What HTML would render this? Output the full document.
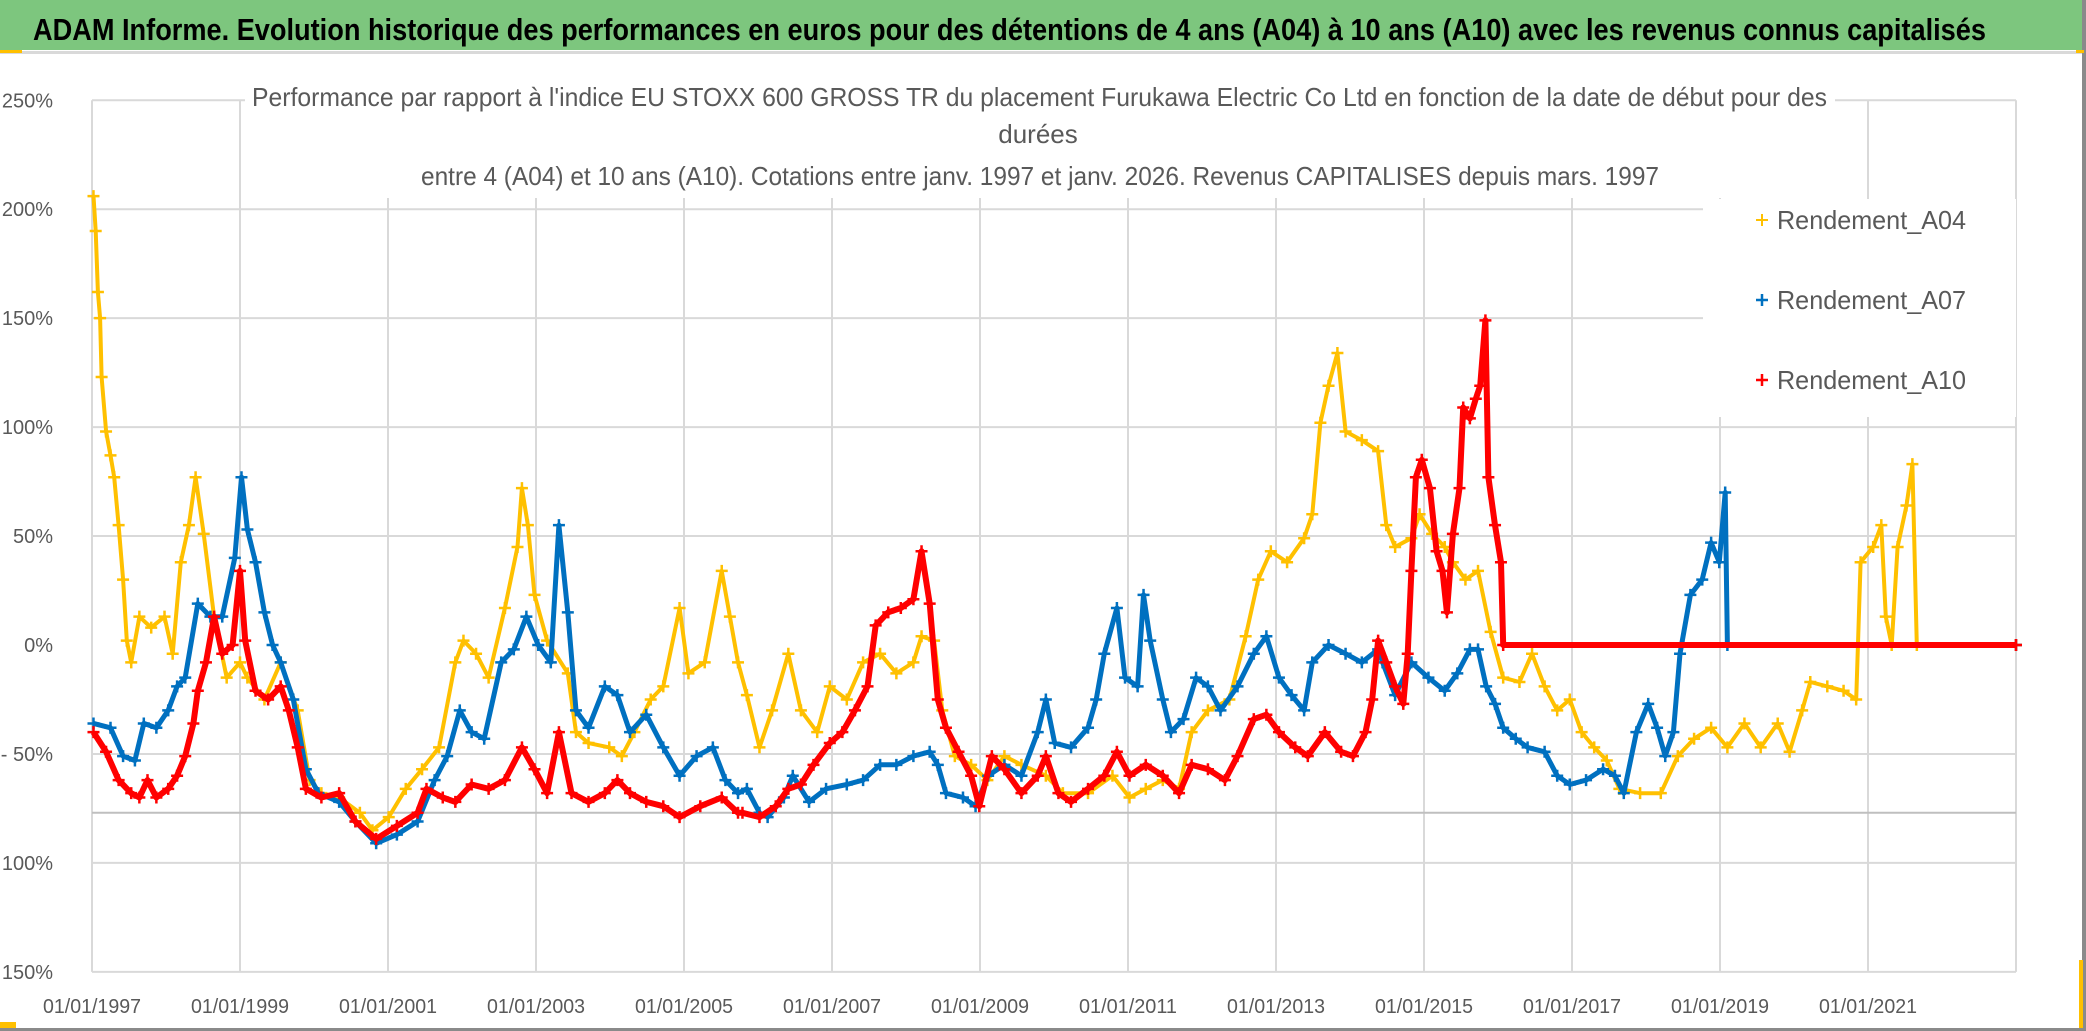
<!DOCTYPE html>
<html><head><meta charset="utf-8">
<style>
html,body{margin:0;padding:0;background:#fff;}
svg{display:block;}
text{font-family:"Liberation Sans",sans-serif;}
</style></head>
<body>
<svg id="chart" width="2086" height="1031" viewBox="0 0 2086 1031" xmlns="http://www.w3.org/2000/svg">
<rect x="0" y="0" width="2086" height="1031" fill="#ffffff"/>
<rect x="0" y="0" width="2086" height="50" fill="#7DC67E"/>
<text x="33" y="40" font-size="31" font-weight="bold" fill="#000" textLength="1953" lengthAdjust="spacingAndGlyphs">ADAM Informe. Evolution historique des performances en euros pour des détentions de 4 ans (A04) à 10 ans (A10) avec les revenus connus capitalisés</text>
<rect x="0" y="51" width="2086" height="3" fill="#d9d9d9"/>
<rect x="0" y="50" width="22" height="3" fill="#FFC000"/>
<g id="grid"></g>
<g id="series"></g>
<rect x="245" y="80" width="1590" height="118" fill="#fff"/>
<text x="252" y="106" font-size="26" fill="#595959" textLength="1575" lengthAdjust="spacingAndGlyphs">Performance par rapport à l'indice EU STOXX 600 GROSS TR  du placement Furukawa Electric Co Ltd en fonction de la date de début pour des</text>
<text x="1038" y="143" font-size="26" fill="#595959" text-anchor="middle">durées</text>
<text x="421" y="185" font-size="26" fill="#595959" textLength="1238" lengthAdjust="spacingAndGlyphs">entre 4 (A04) et 10 ans (A10). Cotations entre janv. 1997 et janv. 2026. Revenus CAPITALISES depuis mars. 1997</text>
<rect x="1703" y="199" width="313" height="218" fill="#fff"/>
<g>
<path d="M1756 220h12M1762 214v12" stroke="#FFC000" stroke-width="2"/>
<text x="1777" y="229" font-size="26" fill="#595959" textLength="189" lengthAdjust="spacingAndGlyphs">Rendement_A04</text></g>
<g>
<path d="M1756 300h12M1762 294v12" stroke="#0070C0" stroke-width="2.5"/>
<text x="1777" y="309" font-size="26" fill="#595959" textLength="189" lengthAdjust="spacingAndGlyphs">Rendement_A07</text></g>
<g>
<path d="M1756 380h12M1762 374v12" stroke="#FF0000" stroke-width="2.5"/>
<text x="1777" y="389" font-size="26" fill="#595959" textLength="189" lengthAdjust="spacingAndGlyphs">Rendement_A10</text></g>
<g id="yaxis"></g>
<g id="xaxis"></g>
<rect x="2082" y="0" width="4" height="1031" fill="#8a8a8a"/>
<rect x="0" y="1028" width="2086" height="3" fill="#8a8a8a"/>
<rect x="2079" y="960" width="4" height="68" fill="#FFC000"/>
<rect x="2076" y="50" width="8" height="3" fill="#FFC000"/>
<rect x="0" y="1022" width="16" height="6" fill="#FFC000"/>
</svg>
<script>
const yTicks = [250, 200, 150, 100, 50, 0, -50, -100, -150];
const yTickLabels = ["250%", "200%", "150%", "100%", "50%", "0%", "- 50%", "- 100%", "- 150%"];
const xTickYears = [1997, 1999, 2001, 2003, 2005, 2007, 2009, 2011, 2013, 2015, 2017, 2019, 2021, 2023];
const xTickLabels = ["01/01/1997","01/01/1999","01/01/2001","01/01/2003","01/01/2005","01/01/2007","01/01/2009","01/01/2011","01/01/2013","01/01/2015","01/01/2017","01/01/2019","01/01/2021",""];
const axisCrossValue = -77;

const a04Dates = [1997.02,1997.05,1997.08,1997.11,1997.13,1997.19,1997.25,1997.3,1997.36,1997.42,1997.47,1997.53,1997.64,1997.8,1997.98,1998.09,1998.2,1998.31,1998.4,1998.51,1998.65,1998.82,1999.0,1999.1,1999.33,1999.55,1999.78,1999.94,2000.1,2000.34,2000.62,2000.79,2001.01,2001.24,2001.46,2001.69,2001.91,2002.02,2002.19,2002.36,2002.58,2002.75,2002.81,2002.89,2002.98,2003.15,2003.43,2003.54,2003.71,2003.99,2004.16,2004.33,2004.55,2004.72,2004.94,2005.06,2005.28,2005.51,2005.62,2005.73,2005.85,2006.02,2006.19,2006.41,2006.58,2006.8,2006.97,2007.2,2007.42,2007.65,2007.87,2008.1,2008.21,2008.38,2008.49,2008.66,2008.88,2009.1,2009.33,2009.56,2009.89,2010.12,2010.46,2010.79,2011.02,2011.24,2011.47,2011.69,2011.86,2012.08,2012.37,2012.59,2012.76,2012.93,2013.15,2013.38,2013.49,2013.6,2013.71,2013.83,2013.94,2014.16,2014.38,2014.49,2014.61,2014.83,2014.94,2015.11,2015.28,2015.39,2015.56,2015.73,2015.9,2016.07,2016.29,2016.46,2016.63,2016.8,2016.97,2017.13,2017.3,2017.47,2017.64,2017.92,2018.2,2018.43,2018.65,2018.88,2019.1,2019.33,2019.55,2019.78,2019.94,2020.11,2020.22,2020.45,2020.67,2020.84,2020.9,2021.07,2021.18,2021.24,2021.32,2021.4,2021.52,2021.6,2021.66,2023.0];
const a04Values = [206,190,162,150,123,98,87,77,55,30,2,-8,13,8,13,-4,38,55,77,51,13,-15,-8,-15,-25,-8,-30,-62,-68,-70,-77,-85,-79,-66,-57,-47,-8,2,-4,-15,17,45,72,55,23,2,-13,-40,-45,-47,-51,-40,-25,-19,17,-13,-8,34,13,-8,-23,-47,-30,-4,-30,-40,-19,-25,-8,-4,-13,-8,4,2,-30,-51,-55,-62,-51,-55,-60,-68,-68,-60,-70,-66,-62,-66,-40,-30,-25,4,30,43,38,49,60,102,119,134,98,94,89,55,45,49,60,51,45,38,30,34,6,-15,-17,-4,-19,-30,-25,-40,-47,-53,-66,-68,-68,-51,-43,-38,-47,-36,-47,-36,-49,-30,-17,-19,-21,-25,38,45,55,13,0,45,64,83,0,0];

const a07Dates = [1997.02,1997.25,1997.42,1997.58,1997.7,1997.87,1998.03,1998.15,1998.26,1998.43,1998.6,1998.76,1998.93,1999.02,1999.1,1999.21,1999.33,1999.44,1999.55,1999.72,1999.89,2000.06,2000.34,2000.56,2000.84,2001.12,2001.4,2001.63,2001.8,2001.97,2002.13,2002.3,2002.53,2002.7,2002.87,2003.03,2003.2,2003.31,2003.43,2003.54,2003.71,2003.93,2004.1,2004.27,2004.49,2004.72,2004.94,2005.17,2005.39,2005.56,2005.73,2005.85,2006.02,2006.13,2006.35,2006.47,2006.69,2006.92,2007.2,2007.42,2007.65,2007.87,2008.1,2008.32,2008.43,2008.54,2008.77,2008.94,2009.11,2009.33,2009.56,2009.78,2009.89,2010.01,2010.23,2010.46,2010.57,2010.68,2010.85,2010.96,2011.13,2011.21,2011.3,2011.47,2011.58,2011.75,2011.92,2012.08,2012.25,2012.48,2012.7,2012.87,2013.04,2013.21,2013.38,2013.49,2013.71,2013.94,2014.16,2014.38,2014.44,2014.61,2014.83,2015.06,2015.28,2015.45,2015.62,2015.73,2015.84,2015.96,2016.07,2016.24,2016.4,2016.63,2016.8,2016.97,2017.19,2017.42,2017.58,2017.7,2017.87,2018.03,2018.15,2018.26,2018.37,2018.46,2018.6,2018.76,2018.88,2018.99,2019.07,2019.1,2023.0];
const a07Values = [-36,-38,-51,-53,-36,-38,-30,-19,-15,19,13,13,40,77,53,38,15,0,-8,-25,-57,-68,-72,-81,-91,-87,-81,-62,-51,-30,-40,-43,-8,-2,13,0,-8,55,15,-30,-38,-19,-23,-40,-32,-47,-60,-51,-47,-62,-68,-66,-77,-79,-70,-60,-72,-66,-64,-62,-55,-55,-51,-49,-55,-68,-70,-74,-60,-55,-60,-40,-25,-45,-47,-38,-25,-4,17,-15,-19,23,2,-25,-40,-34,-15,-19,-30,-19,-4,4,-15,-23,-30,-8,0,-4,-8,-2,-8,-23,-8,-15,-21,-13,-2,-2,-19,-27,-38,-43,-47,-49,-60,-64,-62,-57,-60,-68,-40,-27,-38,-51,-40,-4,23,30,47,38,70,0,0];

const a10Dates = [1997.02,1997.19,1997.36,1997.53,1997.64,1997.75,1997.87,1998.03,1998.15,1998.26,1998.37,1998.43,1998.54,1998.65,1998.76,1998.9,1999.0,1999.07,1999.21,1999.38,1999.55,1999.66,1999.78,1999.89,2000.1,2000.34,2000.56,2000.84,2001.12,2001.4,2001.52,2001.74,2001.91,2002.13,2002.36,2002.58,2002.81,2002.98,2003.15,2003.31,2003.48,2003.71,2003.93,2004.1,2004.27,2004.49,2004.72,2004.94,2005.22,2005.51,2005.73,2005.79,2006.02,2006.24,2006.41,2006.58,2006.75,2006.97,2007.14,2007.31,2007.48,2007.59,2007.76,2007.93,2008.1,2008.21,2008.32,2008.43,2008.54,2008.71,2008.88,2008.99,2009.16,2009.33,2009.56,2009.78,2009.89,2010.06,2010.23,2010.46,2010.68,2010.85,2011.02,2011.24,2011.47,2011.69,2011.86,2012.08,2012.31,2012.48,2012.7,2012.87,2013.04,2013.26,2013.43,2013.66,2013.88,2014.04,2014.21,2014.3,2014.38,2014.49,2014.61,2014.72,2014.78,2014.83,2014.89,2014.97,2015.08,2015.17,2015.25,2015.31,2015.39,2015.48,2015.53,2015.62,2015.7,2015.76,2015.83,2015.87,2015.96,2016.04,2016.07,2023.0];
const a10Values = [-40,-49,-62,-68,-70,-62,-70,-66,-60,-51,-36,-21,-8,13,-4,0,34,2,-21,-25,-19,-30,-47,-66,-70,-68,-81,-89,-83,-77,-66,-70,-72,-64,-66,-62,-47,-57,-68,-40,-68,-72,-68,-62,-68,-72,-74,-79,-74,-70,-77,-77,-79,-74,-66,-64,-55,-45,-40,-30,-19,9,15,17,21,43,19,-25,-38,-49,-60,-74,-51,-57,-68,-60,-51,-68,-72,-66,-60,-49,-60,-55,-60,-68,-55,-57,-62,-51,-34,-32,-40,-47,-51,-40,-49,-51,-40,-25,2,-8,-19,-27,-4,34,77,85,72,43,34,15,51,72,109,104,113,119,149,77,55,38,0,0];

const NS = "http://www.w3.org/2000/svg";
const X0 = 92, PX_PER_YEAR = 74, Y0 = 645, PX_PER_PCT = 2.179;
const xScale = yr => X0 + (yr - 1997) * PX_PER_YEAR;
const yScale = v => Y0 - v * PX_PER_PCT;
const XMIN = 92, XMAX = 2016;
function mk(tag, attrs, parent) {
  const e = document.createElementNS(NS, tag);
  for (const k in attrs) e.setAttribute(k, attrs[k]);
  parent.appendChild(e);
  return e;
}
const grid = document.getElementById('grid');
yTicks.forEach((t, i) => {
  if (t === 0) return;
  const l = mk('line', {x1: XMIN, x2: XMAX, y1: yScale(t), y2: yScale(t), stroke: '#d9d9d9', 'stroke-width': 2}, grid);
  
  
});
xTickYears.forEach(yr => {
  const l = mk('line', {x1: xScale(yr), x2: xScale(yr), y1: yScale(250), y2: yScale(-150), stroke: '#d9d9d9', 'stroke-width': 2}, grid);
  
  
});
const ax = mk('line', {x1: XMIN, x2: XMAX, y1: yScale(axisCrossValue), y2: yScale(axisCrossValue), stroke: '#bfbfbf', 'stroke-width': 2}, grid);



const yaxis = document.getElementById('yaxis');
yTicks.forEach((t, i) => {
  const tx = mk('text', {x: 53, y: yScale(t) + 7, 'font-size': 20, fill: '#595959', 'text-anchor': 'end'}, yaxis);
  tx.textContent = yTickLabels[i];
  
  
});
const xaxis = document.getElementById('xaxis');
xTickYears.forEach((yr, i) => {
  if (!xTickLabels[i]) return;
  const tx = mk('text', {x: xScale(yr), y: 1013, 'font-size': 20, fill: '#595959', 'text-anchor': 'middle', textLength: 98, lengthAdjust: 'spacingAndGlyphs'}, xaxis);
  tx.textContent = xTickLabels[i];
  
  
});

const seriesLayer = document.getElementById('series');
function drawSeries(name, dates, values, color, lw) {
  const g = mk('g', {}, seriesLayer);
  
  
  const pts = dates.map((d, i) => xScale(d).toFixed(1) + ',' + yScale(values[i]).toFixed(1)).join(' ');
  const pl = mk('polyline', {points: pts, fill: 'none', stroke: color, 'stroke-width': lw, 'stroke-linejoin': 'round'}, g);
  
  
  let d = '';
  dates.forEach((dt, i) => {
    const x = xScale(dt), y = yScale(values[i]);
    d += 'M' + (x - 6) + ' ' + y + 'h12M' + x + ' ' + (y - 6) + 'v12';
  });
  const mp = mk('path', {d: d, stroke: color, 'stroke-width': 2.5, fill: 'none'}, g);
  
  
}
drawSeries('series-a04', a04Dates, a04Values, '#FFC000', 4);
drawSeries('series-a07', a07Dates, a07Values, '#0070C0', 5);
drawSeries('series-a10', a10Dates, a10Values, '#FF0000', 6);
</script>
</body></html>
